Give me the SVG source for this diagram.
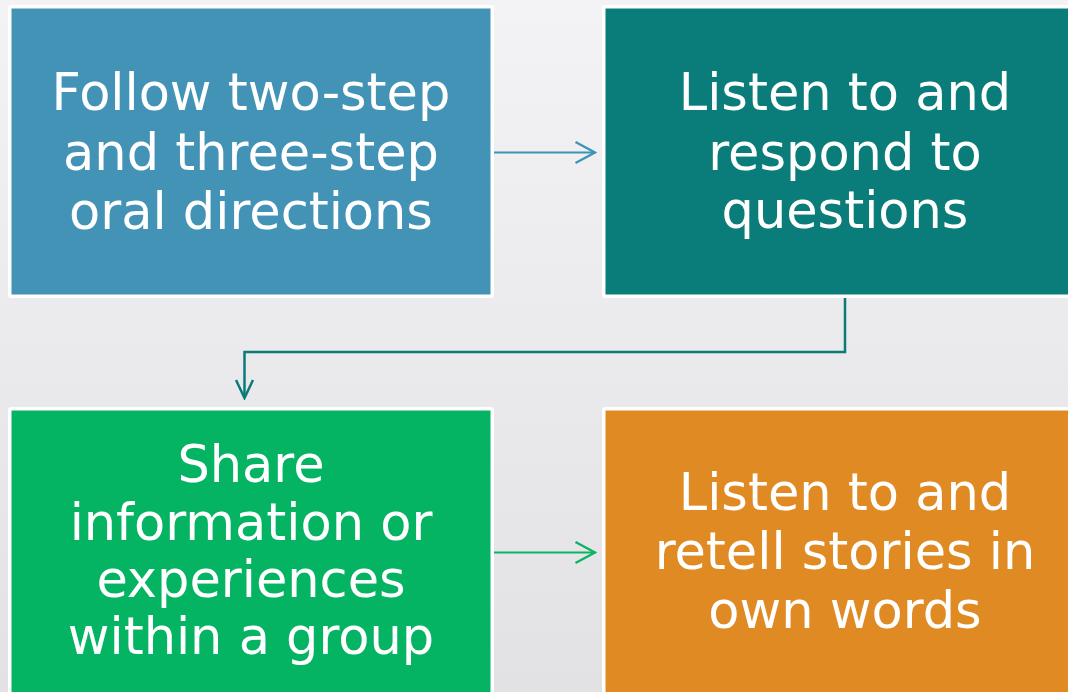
<svg xmlns="http://www.w3.org/2000/svg" width="1068" height="692" viewBox="0 0 1068 692">
  <defs>
    <linearGradient id="bg" x1="0" y1="0" x2="0" y2="1">
      <stop offset="0" stop-color="#f3f3f5"/>
      <stop offset="1" stop-color="#e2e2e5"/>
    </linearGradient>
    <marker id="ahBlue" viewBox="-22 -12 24 24" markerWidth="24" markerHeight="24" refX="0" refY="0" orient="auto" markerUnits="userSpaceOnUse">
      <path d="M-19.5,-10.5 L0,0 L-19.5,10.5" fill="none" stroke="#3f93b8" stroke-width="2.3"/>
    </marker>
    <marker id="ahTeal" viewBox="-22 -12 24 24" markerWidth="24" markerHeight="24" refX="0" refY="0" orient="auto" markerUnits="userSpaceOnUse">
      <path d="M-18,-8.5 L0,0 L-18,8.5" fill="none" stroke="#0b7b78" stroke-width="2.5"/>
    </marker>
    <marker id="ahGreen" viewBox="-22 -12 24 24" markerWidth="24" markerHeight="24" refX="0" refY="0" orient="auto" markerUnits="userSpaceOnUse">
      <path d="M-19.5,-10.5 L0,0 L-19.5,10.5" fill="none" stroke="#0ab466" stroke-width="2.3"/>
    </marker>
  </defs>
  <style>
    .box { stroke: #ffffff; stroke-width: 3.5; }
    .lbl { font-family: "DejaVu Sans", "Liberation Sans", sans-serif; font-size: 51px; fill: #ffffff; text-anchor: middle; }
    .conn { fill: none; }
  </style>
  <rect x="0" y="0" width="1068" height="692" fill="url(#bg)"/>

  <g id="node-follow">
    <rect class="box" x="9.75" y="6.75" width="482.5" height="289.5" rx="1.5" fill="#4393b6"/>
    <text class="lbl" x="251" y="110">Follow two-step</text>
    <text class="lbl" x="251" y="170">and three-step</text>
    <text class="lbl" x="251" y="229">oral directions</text>
  </g>

  <g id="node-listen-respond">
    <rect class="box" x="603.75" y="6.75" width="482.5" height="289.5" rx="1.5" fill="#0a7c7a"/>
    <text class="lbl" x="845" y="110">Listen to and</text>
    <text class="lbl" x="845" y="170">respond to</text>
    <text class="lbl" x="845" y="228">questions</text>
  </g>

  <g id="node-share">
    <rect class="box" x="9.75" y="408.75" width="482.5" height="289.5" rx="1.5" fill="#05b463"/>
    <text class="lbl" x="251" y="482">Share</text>
    <text class="lbl" x="251" y="540">information or</text>
    <text class="lbl" x="251" y="597">experiences</text>
    <text class="lbl" x="251" y="654">within a group</text>
  </g>

  <g id="node-retell">
    <rect class="box" x="603.75" y="408.75" width="482.5" height="289.5" rx="1.5" fill="#df8a22"/>
    <text class="lbl" x="845" y="510">Listen to and</text>
    <text class="lbl" x="845" y="569">retell stories in</text>
    <text class="lbl" x="845" y="628">own words</text>
  </g>

  <g id="connectors" class="conn">
    <path d="M494,152.5 H595" stroke="#3f93b8" stroke-width="2.2" marker-end="url(#ahBlue)"/>
    <path d="M845,298 V352 H244.5 V398" stroke="#0b7b78" stroke-width="2.5" marker-end="url(#ahTeal)"/>
    <path d="M494,552.5 H595" stroke="#0ab466" stroke-width="2.2" marker-end="url(#ahGreen)"/>
  </g>
</svg>
